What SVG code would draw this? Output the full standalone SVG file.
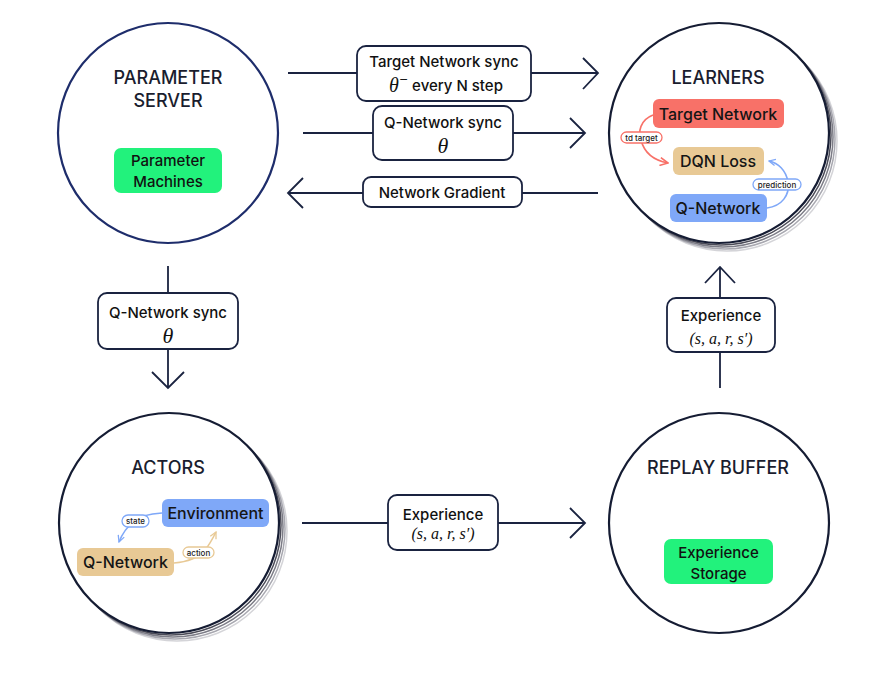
<svg xmlns="http://www.w3.org/2000/svg" width="890" height="693" viewBox="0 0 890 693">
<style>
.t{font-family:Inter,"Open Sans","Liberation Sans",sans-serif;text-anchor:middle;dominant-baseline:central}
.title{font-size:18px;fill:#1a1d2e;font-weight:500}
.lbl{font-size:15px;fill:#111;font-weight:500}
.inner{font-size:16px;fill:#151515;font-weight:500}
.pill{font-size:8px;fill:#222;font-weight:500}
.m{font-family:"Liberation Serif","DejaVu Serif",serif;font-style:italic;text-anchor:middle;dominant-baseline:central;fill:#111}
.box{fill:#fff;stroke:#1a2340;stroke-width:1.8}
.ln{fill:none;stroke:#1a2340;stroke-width:1.8}
.main{fill:#fff;stroke:#151c33;stroke-width:2.2}
</style>
<defs>
<marker id="ob" viewBox="0 0 10 10" refX="9" refY="5" markerWidth="8" markerHeight="8" orient="auto" markerUnits="userSpaceOnUse"><path d="M1,1 L9,5 L1,9" fill="none" stroke="#7fa8f8" stroke-width="1.6"/></marker>
<marker id="or" viewBox="0 0 10 10" refX="9" refY="5" markerWidth="10" markerHeight="10" orient="auto" markerUnits="userSpaceOnUse"><path d="M1,1 L9,5 L1,9" fill="none" stroke="#f87168" stroke-width="1.6"/></marker>
<marker id="ot" viewBox="0 0 10 10" refX="9" refY="5" markerWidth="8" markerHeight="8" orient="auto" markerUnits="userSpaceOnUse"><path d="M1,1 L9,5 L1,9" fill="none" stroke="#e8c995" stroke-width="1.6"/></marker>
</defs>
<rect width="890" height="693" fill="#fff"/>

<g id="connectors">
  <g id="c-target-sync">
    <path class="ln" d="M288,73 H598 M583,58 L598,73 L583,89"/>
    <rect class="box" x="357" y="46" width="174" height="55" rx="9"/>
    <text class="t lbl" x="444" y="61">Target Network sync</text>
    <text class="t lbl" x="446" y="85"><tspan font-family="Liberation Serif,DejaVu Serif,serif" font-style="italic" font-size="20">θ</tspan><tspan font-family="DejaVu Sans,sans-serif" font-size="11" dy="-6">−</tspan><tspan dy="6"> every N step</tspan></text>
  </g>
  <g id="c-q-sync-top">
    <path class="ln" d="M303,133 H585 M570,118 L585,133 L570,148"/>
    <rect class="box" x="373" y="106" width="140" height="54" rx="9"/>
    <text class="t lbl" x="443" y="122">Q-Network sync</text>
    <text class="m" x="443" y="145" font-size="22">θ</text>
  </g>
  <g id="c-gradient">
    <path class="ln" d="M598,193 H288 M303,178 L288,193 L303,208"/>
    <rect class="box" x="363" y="177" width="159" height="30" rx="8"/>
    <text class="t lbl" x="442" y="192">Network Gradient</text>
  </g>
  <g id="c-q-sync-left">
    <path class="ln" d="M168,266 V388 M152,372 L168,388 L184,372"/>
    <rect class="box" x="98" y="293" width="140" height="56" rx="9"/>
    <text class="t lbl" x="168" y="312">Q-Network sync</text>
    <text class="m" x="168" y="335" font-size="22">θ</text>
  </g>
  <g id="c-exp-up">
    <path class="ln" d="M720,388 V267 M705,283 L720,267 L735,283"/>
    <rect class="box" x="667" y="298" width="108" height="54" rx="9"/>
    <text class="t lbl" x="721" y="315">Experience</text>
    <text class="m" x="721" y="338" font-size="16">(s, a, r, s′)</text>
  </g>
  <g id="c-exp-right">
    <path class="ln" d="M302,523 H585 M570,508 L585,523 L570,538"/>
    <rect class="box" x="388" y="495" width="110" height="55" rx="9"/>
    <text class="t lbl" x="443" y="514">Experience</text>
    <text class="m" x="443" y="533" font-size="16">(s, a, r, s′)</text>
  </g>
</g>

<g id="parameter-server">
  <circle cx="168" cy="133" r="110" fill="#fff" stroke="#1e2d6b" stroke-width="2.2"/>
  <text class="t title" x="168" y="77" fill="#262b4d">PARAMETER</text>
  <text class="t title" x="168" y="100" fill="#262b4d">SERVER</text>
  <rect x="114" y="148" width="108" height="45" rx="7" fill="#22f27c"/>
  <text class="t lbl" x="168" y="160">Parameter</text>
  <text class="t lbl" x="168" y="181">Machines</text>
</g>

<g id="learners">
  <circle cx="727" cy="141" r="110" fill="none" stroke="#d4d4d8" stroke-width="1.5"/>
  <circle cx="725" cy="139" r="110" fill="none" stroke="#a8a8b0" stroke-width="1.5"/>
  <circle cx="723" cy="137" r="110" fill="none" stroke="#7c7c86" stroke-width="1.5"/>
  <circle cx="721" cy="135" r="110" fill="none" stroke="#4c4c58" stroke-width="1.5"/>
  <circle class="main" cx="719" cy="133" r="110"/>
  <text class="t title" x="718" y="77">LEARNERS</text>
  <rect x="653" y="99" width="131" height="29" rx="6" fill="#f87168"/>
  <text class="t inner" x="718" y="114">Target Network</text>
  <rect x="673" y="147" width="91" height="28" rx="6" fill="#e8c995"/>
  <text class="t inner" x="718" y="161">DQN Loss</text>
  <rect x="670" y="194" width="97" height="28" rx="6" fill="#7fa8f8"/>
  <text class="t inner" x="718" y="208">Q-Network</text>
  <path d="M653,115 C640,120 638,132 641,140 C644,152 652,160 668,163" fill="none" stroke="#f87168" stroke-width="1.6" marker-end="url(#or)"/>
  <rect x="621" y="132" width="41" height="11" rx="5.5" fill="#fff" stroke="#f87168" stroke-width="1.3"/>
  <text class="t pill" x="641.5" y="137.5">td target</text>
  <path d="M767,208 C782,206 790,195 788,182 C786,170 778,163 769,161" fill="none" stroke="#7fa8f8" stroke-width="1.6" marker-end="url(#ob)"/>
  <rect x="753" y="179" width="48" height="11" rx="5.5" fill="#fff" stroke="#7fa8f8" stroke-width="1.3"/>
  <text class="t pill" x="777" y="184.5">prediction</text>
</g>

<g id="actors">
  <circle cx="177" cy="531" r="110" fill="none" stroke="#d4d4d8" stroke-width="1.5"/>
  <circle cx="175" cy="529" r="110" fill="none" stroke="#a8a8b0" stroke-width="1.5"/>
  <circle cx="173" cy="527" r="110" fill="none" stroke="#7c7c86" stroke-width="1.5"/>
  <circle cx="171" cy="525" r="110" fill="none" stroke="#4c4c58" stroke-width="1.5"/>
  <circle class="main" cx="169" cy="523" r="110"/>
  <text class="t title" x="168" y="467">ACTORS</text>
  <path d="M162,513 C150,514 140,516 135,520 C128,526 122,534 119,542" fill="none" stroke="#7fa8f8" stroke-width="1.6" marker-end="url(#ob)"/>
  <path d="M174,563 C188,562 198,558 205,550 C210,544 213,538 216,532" fill="none" stroke="#e8c995" stroke-width="1.6" marker-end="url(#ot)"/>
  <rect x="162" y="499" width="107" height="28" rx="6" fill="#7fa8f8"/>
  <text class="t inner" x="215.5" y="513">Environment</text>
  <rect x="77" y="548" width="97" height="28" rx="6" fill="#e8c995"/>
  <text class="t inner" x="125.5" y="562">Q-Network</text>
  <rect x="122" y="515" width="27" height="12" rx="6" fill="#fff" stroke="#7fa8f8" stroke-width="1.3"/>
  <text class="t pill" x="135.5" y="521">state</text>
  <rect x="183" y="547" width="31" height="11" rx="5.5" fill="#fff" stroke="#e8c995" stroke-width="1.3"/>
  <text class="t pill" x="198.5" y="552.5">action</text>
</g>

<g id="replay-buffer">
  <circle class="main" cx="719" cy="523" r="110"/>
  <text class="t title" x="718" y="467">REPLAY BUFFER</text>
  <rect x="664" y="539" width="109" height="45" rx="7" fill="#22f27c"/>
  <text class="t lbl" x="718.5" y="552">Experience</text>
  <text class="t lbl" x="718.5" y="573">Storage</text>
</g>
</svg>
